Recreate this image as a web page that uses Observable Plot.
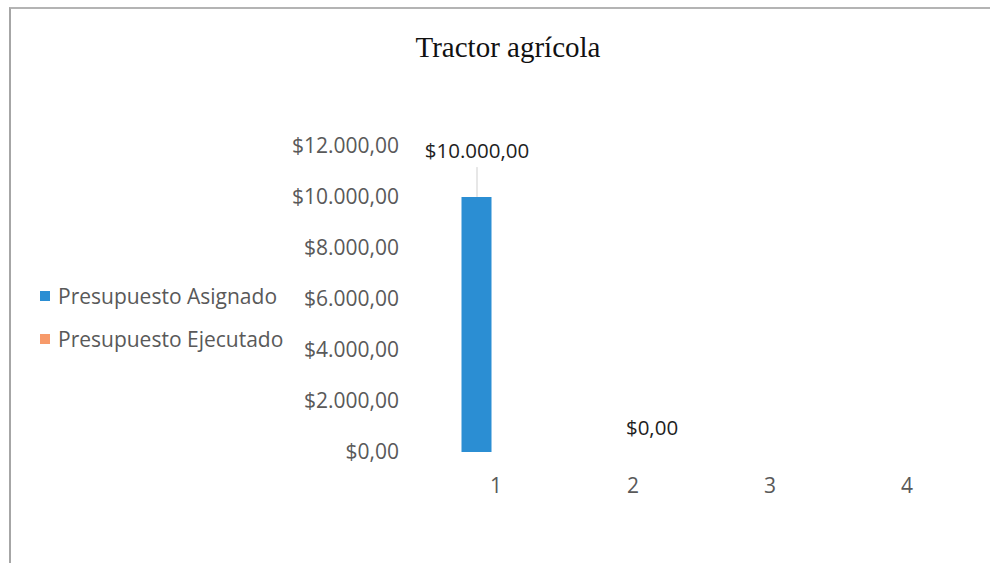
<!DOCTYPE html>
<html>
<head>
<meta charset="utf-8">
<script src="https://cdn.jsdelivr.net/npm/d3@7"></script>
<script src="https://cdn.jsdelivr.net/npm/@observablehq/plot@0.6"></script>
<style>
  html, body { margin: 0; padding: 0; background: #fff; }
  body { width: 990px; height: 563px; overflow: hidden; position: relative; font-family: "Open Sans", sans-serif; }
  #frame { position: absolute; left: 9px; top: 7px; width: 1000px; height: 600px; border-left: 2px solid #a6a6a6; border-top: 2px solid #b4b4b4; box-sizing: border-box; }
  #title { position: absolute; left: 0; top: 33px; width: 1016px; text-align: center; font-family: "Liberation Serif", serif; font-size: 29px; line-height: 29px; color: #111; }
  #chart { position: absolute; left: 0; top: 0; }
  .leg { position: absolute; left: 40px; height: 24px; display: flex; align-items: center; font-size: 21px; line-height: 24px; color: #595959; white-space: nowrap; }
  .leg .sw { width: 10px; height: 10px; margin-right: 8px; flex: none; }
</style>
</head>
<body>
<div id="frame"></div>
<div id="chart"></div>
<div id="title">Tractor agrícola</div>
<div id="legend"></div>
<script>
// ---- data ----
const titleText = "Tractor agrícola";
const categories = ["1", "2", "3", "4"];
const series = ["Presupuesto Asignado", "Presupuesto Ejecutado"];
const asignado = [10000, null, null, null];
const ejecutado = [null, 0, null, null];
const yTicks = [0, 2000, 4000, 6000, 8000, 10000, 12000];
const colors = ["#2b8ed3", "#f79a6a"];

// ---- build table ----
const rows = [];
categories.forEach((c, i) => {
  if (asignado[i] != null) rows.push({cat: c, serie: series[0], value: asignado[i]});
  if (ejecutado[i] != null) rows.push({cat: c, serie: series[1], value: ejecutado[i]});
});

const locale = d3.formatLocale({decimal: ",", thousands: ".", grouping: [3], currency: ["$", ""]});
const fmt = locale.format("$,.2f");

const spike = {
  draw(context, l) { context.moveTo(0, 0); context.lineTo(0, -l); }
};

const chart = Plot.plot({
  width: 990,
  height: 563,
  marginLeft: 426.5,
  marginRight: 15.5,
  marginTop: 146,
  marginBottom: 111,
  style: {fontFamily: "Open Sans", fontSize: "21px", color: "#595959", background: "transparent"},
  fx: {domain: categories, padding: 0, axis: "bottom", tickSize: 0, tickPadding: 26, label: null},
  x: {domain: series, axis: null, paddingInner: 0.205, paddingOuter: 0.859},
  y: {domain: [0, 12000], ticks: yTicks, tickFormat: fmt, tickSize: 0, tickPadding: 28.5, label: null},
  color: {domain: series, range: colors},
  marks: [
    Plot.barY(rows, {fx: "cat", x: "serie", y: "value", fill: "serie"}),
    Plot.vector(rows.filter(d => d.value > 0), {
      fx: "cat", x: "serie", y: "value", length: 29, rotate: 0, anchor: "start",
      shape: spike, stroke: "#cfcfcf", strokeWidth: 1, dy: -1
    }),
    Plot.text(rows.filter(d => d.value > 0), {
      fx: "cat", x: "serie", y: "value", text: d => fmt(d.value), dy: -46,
      fontSize: 20.5, fill: "#1e1e1e"
    }),
    Plot.text(rows.filter(d => d.value === 0), {
      fx: "cat", x: "serie", y: "value", text: d => fmt(d.value), dy: -24,
      fontSize: 20.5, fill: "#1e1e1e"
    })
  ]
});
document.getElementById("chart").appendChild(chart);
document.getElementById("title").textContent = titleText;

const legend = document.getElementById("legend");
series.forEach((s, i) => {
  const row = document.createElement("div");
  row.className = "leg";
  row.style.top = (284 + i * 43) + "px";
  const sw = document.createElement("span");
  sw.className = "sw";
  sw.style.background = colors[i];
  const tx = document.createElement("span");
  tx.textContent = s;
  row.appendChild(sw);
  row.appendChild(tx);
  legend.appendChild(row);
});
</script>
</body>
</html>
